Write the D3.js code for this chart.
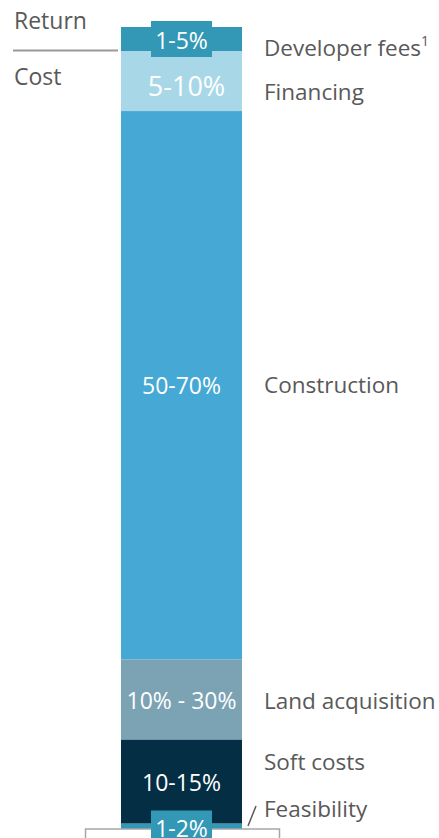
<!DOCTYPE html>
<html>
<head>
<meta charset="utf-8">
<script src="https://cdn.jsdelivr.net/npm/d3@7"></script>
<style>
  html, body { margin: 0; padding: 0; background: #fff; }
  svg { display: block; font-family: "Open Sans", "Noto Sans", sans-serif; font-weight: 400; }
</style>
</head>
<body>
<svg id="chart" width="439" height="838"></svg>
<script>
// ---- data (bottom to top of the stacked bar) ----
const categories = ["Feasibility", "Soft costs", "Land acquisition", "Construction", "Financing", "Developer fees"];
const ranges     = ["1-2%", "10-15%", "10% - 30%", "50-70%", "5-10%", "1-5%"];
const heights    = [10, 84, 80, 548, 60, 24];   // visual share of the bar
const groupLabels = ["Return", "Cost"];

// ---- layout / style ----
const colors = ["#3398b6", "#032e44", "#7ba3b4", "#45a8d5", "#a8d8e8", "#3398b6"];
const boxed  = [true, false, false, false, false, true];   // label with a background tag
const sideShift = [-20, -19.5, 1, 0, 11, 9];              // nudge of right-hand labels
const inShift   = [0, 1, 1, 0, 5, 2];
const inSize    = [23, 23, 23, 23, 27, 23];
const textGrey = "#595959";

const svg = d3.select("#chart");
const total = d3.sum(heights);
const y = d3.scaleLinear().domain([0, total]).range([833.5, 27]);
const x = d3.scaleBand().domain(["bar"]).range([121, 242]).padding(0);

const ends = d3.cumsum(heights);
const segs = categories.map((c, i) => ({
  cat: c, range: ranges[i], y0: ends[i] - heights[i], y1: ends[i], i
}));

// bars
svg.append("g").selectAll("rect").data(segs).join("rect")
  .attr("x", x("bar"))
  .attr("width", x.bandwidth())
  .attr("y", d => y(d.y1))
  .attr("height", d => y(d.y0) - y(d.y1))
  .attr("fill", d => colors[d.i]);

// bottom bracket box (covers the bar end)
svg.append("rect")
  .attr("x", 85.5).attr("y", 829)
  .attr("width", 194).attr("height", 30)
  .attr("fill", "#fff").attr("stroke", "#a6a6a6").attr("stroke-width", 1.5);

// Return / Cost divider
const divY = y(ends[4]);
svg.append("line")
  .attr("x1", 13).attr("x2", 118).attr("y1", divY - 0.5).attr("y2", divY - 0.5)
  .attr("stroke", "#999").attr("stroke-width", 2);
svg.append("text").attr("x", 14).attr("y", 29).text(groupLabels[0])
  .attr("fill", textGrey).attr("font-size", 23);
svg.append("text").attr("x", 14).attr("y", 85).text(groupLabels[1])
  .attr("fill", textGrey).attr("font-size", 23);

const cx = x("bar") + x.bandwidth() / 2;

// label tags
svg.append("g").selectAll("rect").data(segs.filter(d => boxed[d.i])).join("rect")
  .attr("x", cx - 30.5).attr("width", 61)
  .attr("y", d => (y(d.y0) + y(d.y1)) / 2 - 18)
  .attr("height", 36)
  .attr("fill", d => colors[d.i]);

// in-bar labels
svg.append("g").selectAll("text").data(segs).join("text")
  .attr("x", d => cx + (d.i === 4 ? 5 : 0))
  .attr("y", d => (y(d.y0) + y(d.y1)) / 2 + inShift[d.i])
  .attr("dy", "0.36em")
  .attr("text-anchor", "middle")
  .attr("fill", "#fff")
  .attr("font-size", d => inSize[d.i])
  .text(d => d.range);

// right-hand category labels
const side = svg.append("g").selectAll("text").data(segs).join("text")
  .attr("x", 264)
  .attr("y", d => (y(d.y0) + y(d.y1)) / 2 + sideShift[d.i])
  .attr("dy", "0.36em")
  .attr("fill", textGrey)
  .attr("font-size", 22.5)
  .text(d => d.cat);
side.filter(d => d.cat === "Developer fees").append("tspan")
  .attr("font-size", 14).attr("dy", "-0.7em").text("1");

// leader slash for Feasibility
svg.append("line")
  .attr("x1", 248).attr("y1", 826).attr("x2", 256).attr("y2", 806)
  .attr("stroke", textGrey).attr("stroke-width", 1.5);
</script>
</body>
</html>
